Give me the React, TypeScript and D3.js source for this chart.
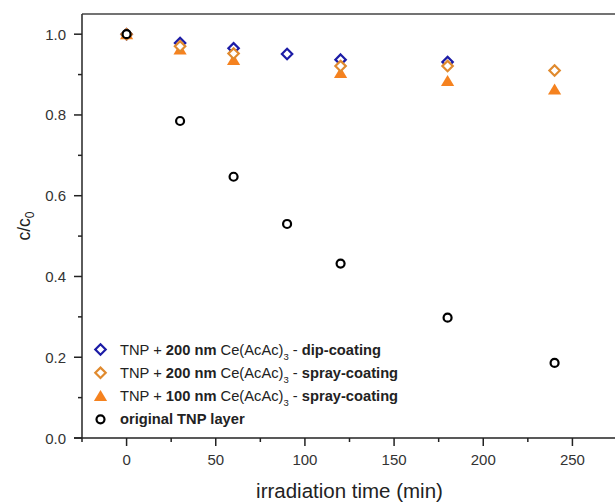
import React from "react";
import * as d3 from "d3";

const W = 615;
const H = 503;

const times = [0, 30, 60, 90, 120, 180, 240];
const dipTimes = [0, 30, 60, 90, 120, 180];
const dip200 = [1.0, 0.978, 0.965, 0.951, 0.937, 0.931];
const sprayTimes = [0, 30, 60, 120, 180, 240];
const spray200 = [1.0, 0.97, 0.952, 0.921, 0.921, 0.91];
const spray100 = [1.0, 0.962, 0.936, 0.904, 0.884, 0.863];
const original = [1.0, 0.785, 0.647, 0.53, 0.432, 0.298, 0.186];

const xMajor = [0, 50, 100, 150, 200, 250];
const xMinor = [-25, 25, 75, 125, 175, 225, 275];
const yMajor = [0.0, 0.2, 0.4, 0.6, 0.8, 1.0];
const yMinor = [0.1, 0.3, 0.5, 0.7, 0.9];

const BLUE = "#1c1ca6";
const ORANGE_D = "#e08a2e";
const ORANGE_T = "#f5821f";
const FONT = "'Liberation Sans', Arial, sans-serif";
const TXT = "#333";

export default function App() {
  const left = 82, right = 617, top = 14, bottom = 438;
  const x = d3.scaleLinear().domain([-25, 275]).range([left, right]);
  const y = d3.scaleLinear().domain([0, 1.05]).range([bottom, top]);

  const diamond = (cx: number, cy: number, r: number) =>
    `M${cx},${cy - r}L${cx + r},${cy}L${cx},${cy + r}L${cx - r},${cy}Z`;
  const tri = (cx: number, cy: number, s: number) =>
    `M${cx},${cy - s * 0.55}L${cx + s * 0.6},${cy + s * 0.45}L${cx - s * 0.6},${cy + s * 0.45}Z`;

  const legendRows = [
    { kind: "dblue", y: 349.5, nm: "200", method: "dip-coating" },
    { kind: "dorange", y: 372.8, nm: "200", method: "spray-coating" },
    { kind: "tri", y: 396, nm: "100", method: "spray-coating" },
    { kind: "circ", y: 419.3, nm: "", method: "" },
  ];
  const lx = 100.5, tx = 120;
  const LFS = 14.7;

  const marker = (kind: string, cx: number, cy: number, key?: any) => {
    if (kind === "dblue")
      return <path key={key} d={diamond(cx, cy, 5.2)} fill="white" stroke={BLUE} strokeWidth={2.2} />;
    if (kind === "dorange")
      return <path key={key} d={diamond(cx, cy, 5.2)} fill="white" stroke={ORANGE_D} strokeWidth={2.2} />;
    if (kind === "tri")
      return <path key={key} d={tri(cx, cy, 11)} fill={ORANGE_T} />;
    return <circle key={key} cx={cx} cy={cy} r={4} fill="white" stroke="#000" strokeWidth={2.2} />;
  };

  return (
    <svg width={W} height={H} style={{ position: "absolute", left: 0, top: 0, background: "white" }} fontFamily={FONT}>
      <rect x={0} y={0} width={W} height={H} fill="white" />
      {/* frame */}
      <line x1={left} x2={right} y1={top} y2={top} stroke="#444" strokeWidth={1.6} />
      <line x1={left} x2={left} y1={top} y2={bottom} stroke="#333" strokeWidth={1.6} />
      <line x1={left - 8} x2={right} y1={bottom} y2={bottom} stroke="#222" strokeWidth={1.6} />
      {/* x ticks */}
      {xMajor.map((v) => (
        <g key={"xm" + v}>
          <line x1={x(v)} x2={x(v)} y1={bottom} y2={bottom + 8} stroke="#222" strokeWidth={1.5} />
          <text x={x(v)} y={bottom + 27} textAnchor="middle" fontSize={15} fill={TXT}>{v}</text>
        </g>
      ))}
      {xMinor.map((v) => (
        <line key={"xn" + v} x1={x(v)} x2={x(v)} y1={bottom} y2={bottom + 4} stroke="#222" strokeWidth={1.5} />
      ))}
      {/* y ticks */}
      {yMajor.map((v) => (
        <g key={"ym" + v}>
          <line x1={left - 8} x2={left} y1={y(v)} y2={y(v)} stroke="#222" strokeWidth={1.5} />
          <text x={left - 16} y={y(v) + 5.5} textAnchor="end" fontSize={15} fill={TXT}>{v.toFixed(1)}</text>
        </g>
      ))}
      {yMinor.map((v) => (
        <line key={"yn" + v} x1={left - 4} x2={left} y1={y(v)} y2={y(v)} stroke="#222" strokeWidth={1.5} />
      ))}
      {/* axis titles */}
      <text x={(left + right) / 2} y={498} textAnchor="middle" fontSize={20.5} fill="#222">irradiation time (min)</text>
      <text transform={`translate(30,226) rotate(-90)`} textAnchor="middle" fontSize={17.5} fill="#222">
        c/c<tspan fontSize={12} dy={4}>0</tspan>
      </text>
      {/* data */}
      {dipTimes.map((t, i) => marker("dblue", x(t), y(dip200[i]), "b" + i))}
      {sprayTimes.map((t, i) => marker("tri", x(t), y(spray100[i]), "t" + i))}
      {sprayTimes.map((t, i) => marker("dorange", x(t), y(spray200[i]), "o" + i))}
      {times.map((t, i) => marker("circ", x(t), y(original[i]), "c" + i))}
      {/* legend */}
      {legendRows.map((r, i) => (
        <g key={"lg" + i}>
          {marker(r.kind, lx, r.y)}
          {r.kind === "circ" ? (
            <text x={tx} y={r.y + 5} fontSize={LFS} fill="#222" fontWeight="bold">original TNP layer</text>
          ) : (
            <text x={tx} y={r.y + 5} fontSize={LFS} fill="#222">
              TNP + <tspan fontWeight="bold">{r.nm} nm</tspan> Ce(AcAc)
              <tspan fontSize={9.5} dy={5}>3</tspan>
              <tspan dy={-5}> - </tspan>
              <tspan fontWeight="bold">{r.method}</tspan>
            </text>
          )}
        </g>
      ))}
    </svg>
  );
}
